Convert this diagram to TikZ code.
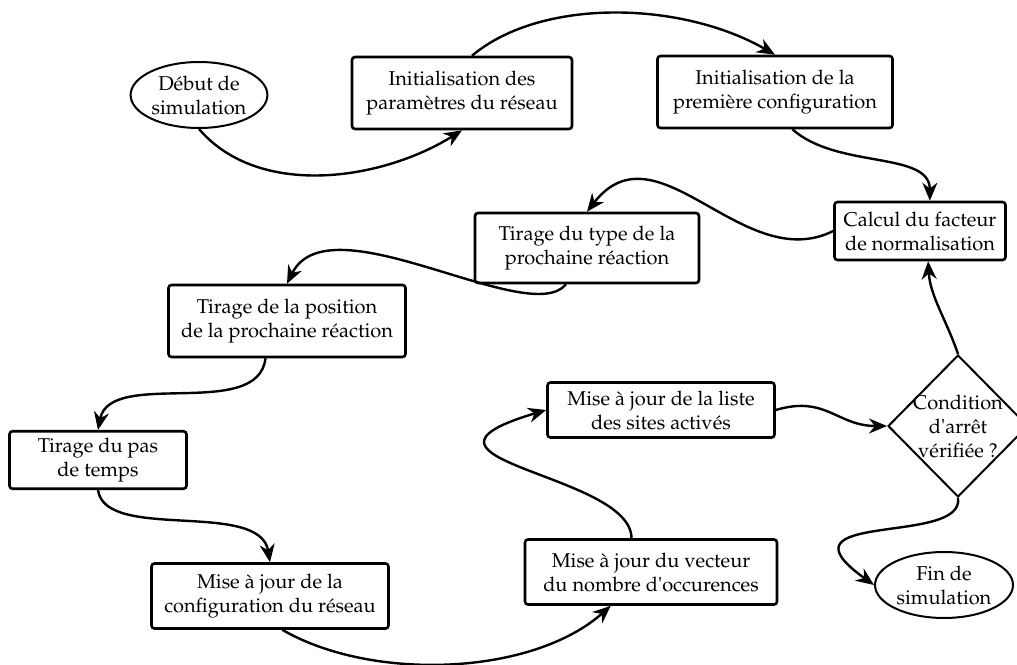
\documentclass[tikz,border=0pt]{standalone}
\usepackage[T1]{fontenc}
\usepackage{mathpazo}
\usetikzlibrary{shapes.geometric,arrows.meta}

\begin{document}
\begin{tikzpicture}[x=0.5pt,y=0.5pt,>={Stealth[length=9pt,width=7.5pt]},line width=1.2pt]
	\tikzstyle{flow} = [align=center,font=\fontsize{10}{12}\selectfont]
	\tikzstyle{action} = [draw,rectangle,rounded corners=1.5pt,line width=1.3pt,flow]
	\tikzstyle{terminal} = [draw,ellipse,line width=1pt,inner sep=0.5pt,minimum width=66.5pt,minimum height=33pt,flow]
	\tikzstyle{decision} = [draw,diamond,line width=1pt,inner sep=-2pt,minimum width=70pt,minimum height=71pt,flow]
	\useasboundingbox (0,0) rectangle (1017,-664);
	\node (debut) [terminal] at (199,-95) {D\'ebut de\\simulation};
	\node (params) [action,minimum width=110pt,minimum height=36pt] at (462,-93) {Initialisation des\\param\`etres du r\'eseau};
	\node (premiere) [action,minimum width=117.5pt,minimum height=36pt] at (775,-92) {Initialisation de la\\premi\`ere configuration};
	\node (calcul) [action,minimum width=85.5pt,minimum height=29pt] at (920,-231) {Calcul du facteur\\de normalisation};
	\node (type) [action,minimum width=112pt,minimum height=35pt] at (587,-248) {Tirage du type de la\\prochaine r\'eaction};
	\node (position) [action,minimum width=118.5pt,minimum height=36pt] at (287,-321) {Tirage de la position\\de la prochaine r\'eaction};
	\node (pas) [action,minimum width=88.5pt,minimum height=28pt] at (98,-460) {Tirage du pas\\de temps};
	\node (majconf) [action,minimum width=118.5pt,minimum height=32.5pt] at (270,-596) {Mise \`a jour de la\\configuration du r\'eseau};
	\node (vecteur) [action,minimum width=126pt,minimum height=32.5pt] at (651,-572) {Mise \`a jour du vecteur\\du nombre d\textquotesingle occurences};
	\node (liste) [action,minimum width=113.5pt,minimum height=27.5pt] at (661,-410) {Mise \`a jour de la liste\\des sites activ\'es};
	\node (cond) [decision] at (958,-426) {Condition\\d\textquotesingle arr\^et\\v\'erifi\'ee ?};
	\node (fin) [terminal,minimum width=69pt] at (944,-585) {Fin de\\simulation};

	\draw[->] (debut.south) .. controls +(60,-70) and +(-80,-50) .. (params.south);
	\draw[->] (params.75) .. controls +(69,58) and +(-94,54) .. (premiere.north);
	\draw[->] (premiere.-65) .. controls +(45,-40) and +(0,50) .. (calcul.72);
	\draw[->] (calcul.west) .. controls +(-90,-45) and +(70,90) .. (type.north);
	\draw[->] (type.-120) .. controls +(-37,-45) and +(42,85) .. (position.north);
	\draw[->] (position.-120) .. controls +(-7,-63) and +(12,62) .. (pas.north);
	\draw[->] (pas.south) .. controls +(7,-52) and +(-10,63) .. (majconf.north);
	\draw[->] (majconf.-70) .. controls +(90,-52) and +(-79,-70) .. (vecteur.-140);
	\draw[->] (vecteur.120) .. controls +(0,65) and +(-168,-50) .. (liste.west);
	\draw[->] (liste.east) .. controls +(50,15) and +(-50,0) .. (cond.west);
	\draw[->] (cond.north) .. controls +(-12,35) and +(2,-35) .. (calcul.-75);
	\draw[->] (cond.south) .. controls +(7,-48) and +(-105,75) .. (fin.west);
\end{tikzpicture}
\end{document}
